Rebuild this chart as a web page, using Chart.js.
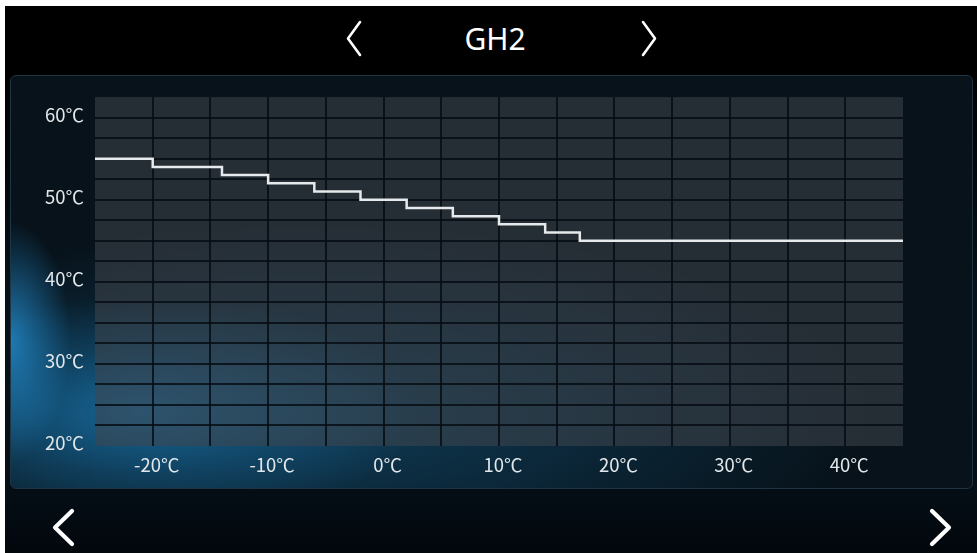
<!DOCTYPE html>
<html>
<head>
<meta charset="utf-8">
<title>GH2</title>
<script src="https://cdn.jsdelivr.net/npm/chart.js@4.4.1/dist/chart.umd.min.js"></script>
<style>
    html, body {
        margin: 0;
        padding: 0;
        background: #ffffff;
        overflow: hidden;
    }

    #screen {
        position: absolute;
        left: 5px;
        top: 6px;
        width: 972px;
        height: 547px;
        overflow: hidden;
        background: linear-gradient(to bottom, #000000 0px, #000000 70px, #06121b 300px, #050e16 480px, #02070c 100%);
    }

    #panel {
        position: absolute;
        left: 10px;
        top: 75px;
        width: 961px;
        height: 412px;
        border: 1px solid #1f3541;
        border-radius: 6px;
        overflow: hidden;
        background: #07121a;
    }

    /* blue light in the lower left of the panel */
    #glow {
        position: absolute;
        left: 0;
        top: 0;
        width: 100%;
        height: 100%;
        background:
            radial-gradient(ellipse 60px 120px at 0px 265px, rgba(35, 140, 205, 0.8), rgba(35, 140, 205, 0) 100%),
            radial-gradient(ellipse 280px 115px at 130px 335px, rgba(25, 115, 170, 0.8), rgba(25, 115, 170, 0.3) 55%, rgba(25, 115, 170, 0) 100%),
            radial-gradient(ellipse 560px 190px at 300px 340px, rgba(25, 110, 160, 0.45), rgba(25, 110, 160, 0) 100%);
    }

    #title {
        position: absolute;
        left: 395px;
        width: 200px;
        top: 18px;
        text-align: center;
        color: #ffffff;
        font: 30px "Noto Sans", "Open Sans", sans-serif;
    }

    #chart {
        position: absolute;
        left: 10px;
        top: 75px;
    }

    #arrows {
        position: absolute;
        left: 0;
        top: 0;
    }
</style>
</head>
<body>

<div id="screen"></div>
<div id="panel"><div id="glow"></div></div>
<div id="title">GH2</div>
<canvas id="chart" width="963" height="414"></canvas>

<svg id="arrows" width="977" height="553">
    <g fill="none" stroke="#ffffff" stroke-linecap="round" stroke-linejoin="round">
        <polyline points="360,22 348,38.5 360,55" stroke-width="2.6"/>
        <polyline points="643,22 655,38.5 643,55" stroke-width="2.6"/>
        <polyline points="72,511 55,527.5 72,544" stroke-width="4.2"/>
        <polyline points="932,511 949,527.5 932,544" stroke-width="4.2"/>
    </g>
</svg>

<script>

// =========================
// Data
// =========================
const outdoorTemps = [-25, -20, -14, -10, -6, -2, 2, 6, 10, 14, 17, 45];
const waterTemps = [55, 54, 53, 52, 51, 50, 49, 48, 47, 46, 45, 45];

const xLabels = [-20, -10, 0, 10, 20, 30, 40];
const yLabels = [20, 30, 40, 50, 60];

// axis ranges and grid spacing
const xMin = -25, xMax = 45, xStep = 5;
const yMin = 20, yMax = 62.5, yStep = 2.5;


// =========================
// Helpers
// =========================
function gridTicks(min, max, step){

    const ticks = [];

    for(let v = min; v <= max + 1e-9; v += step){
        ticks.push({ value: v });
    }

    return ticks;
}

// no line on the outer edges of the plot
function gridColor(ctx){

    const last = ctx.scale.ticks.length - 1;

    if(ctx.index === 0 || ctx.index === last)
        return "rgba(0,0,0,0)";

    return "rgba(6,12,18,0.82)";
}

const plotBackground = {

    id: "plotBackground",

    beforeDraw(chart){

        const { ctx, chartArea: a } = chart;

        ctx.save();
        ctx.fillStyle = "rgba(63,69,77,0.55)";
        ctx.fillRect(a.left, a.top, a.right - a.left, a.bottom - a.top);
        ctx.restore();
    }
};


// =========================
// Chart
// =========================
const points = outdoorTemps.map((t, i) => ({ x: t, y: waterTemps[i] }));

const labelFont = {
    family: "'Noto Sans CJK SC', 'Noto Sans', sans-serif",
    size: 18.5
};

new Chart(document.getElementById("chart"), {

    type: "line",

    data: {
        datasets: [{
            data: points,
            stepped: "before",
            borderColor: "#e6eaec",
            borderWidth: 2.5,
            pointRadius: 0,
            fill: false
        }]
    },

    options: {

        responsive: false,
        animation: false,
        events: [],

        layout: {
            padding: { top: 21, right: 70, left: 0, bottom: 0 }
        },

        plugins: {
            legend: { display: false },
            tooltip: { enabled: false }
        },

        scales: {

            x: {
                type: "linear",
                min: xMin,
                max: xMax,
                afterBuildTicks: s => { s.ticks = gridTicks(xMin, xMax, xStep); },
                afterFit: s => { s.height = 43; },
                border: { display: false },
                grid: {
                    color: gridColor,
                    lineWidth: 2,
                    drawTicks: false
                },
                ticks: {
                    autoSkip: false,
                    maxRotation: 0,
                    padding: 8,
                    labelOffset: 4,
                    color: "#e2e7ea",
                    font: labelFont,
                    callback: v => xLabels.includes(v) ? v + "℃" : ""
                }
            },

            y: {
                min: yMin,
                max: yMax,
                afterBuildTicks: s => { s.ticks = gridTicks(yMin, yMax, yStep); },
                afterFit: s => { s.width = 85; },
                border: { display: false },
                grid: {
                    color: gridColor,
                    lineWidth: 2,
                    drawTicks: false
                },
                ticks: {
                    autoSkip: false,
                    padding: 11,
                    labelOffset: -3,
                    color: "#e2e7ea",
                    font: labelFont,
                    callback: v => yLabels.includes(v) ? v + "℃" : ""
                }
            }
        }
    },

    plugins: [plotBackground]
});

</script>
</body>
</html>
